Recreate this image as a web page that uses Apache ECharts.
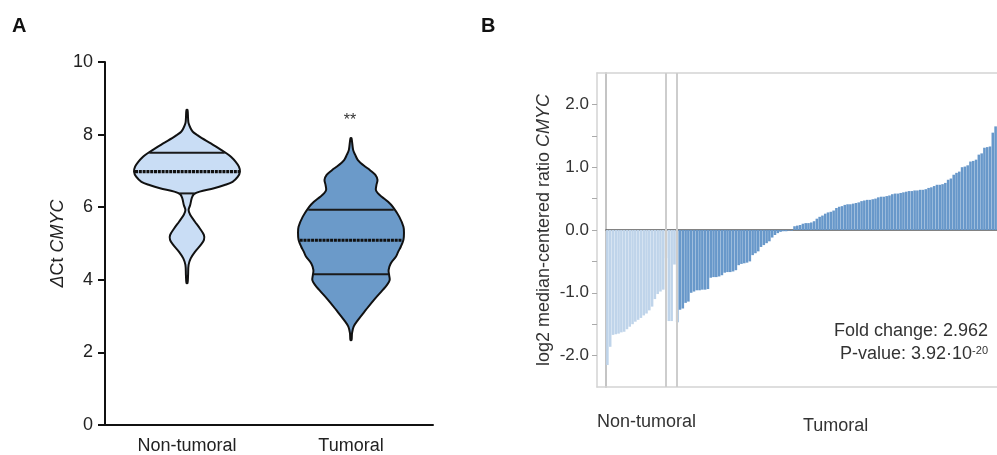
<!DOCTYPE html>
<html>
<head>
<meta charset="utf-8">
<script src="https://cdn.jsdelivr.net/npm/echarts@6/dist/echarts.min.js"></script>
<style>
  html, body { margin: 0; padding: 0; background: #fff; }
  #main { width: 997px; height: 455px; }
</style>
</head>
<body>
<div id="main"></div>
<script>
// panel A: violin groups
var groups = ['Non-tumoral', 'Tumoral'];

// Non-tumoral violin: dCt values and relative density (half width)
var ntY = [3.91, 4.13, 4.41, 4.59, 4.77, 4.96, 5.10, 5.23, 5.42, 5.60, 5.79, 5.92, 6.06, 6.25, 6.36, 6.43, 6.52, 6.61, 6.70, 6.84, 6.98, 7.12, 7.25, 7.39, 7.48, 7.62, 7.76, 7.90, 7.99, 8.08, 8.17, 8.31, 8.45, 8.68];
var ntW = [0.01, 0.02, 0.03, 0.07, 0.15, 0.26, 0.32, 0.32, 0.24, 0.15, 0.06, 0.03, 0.06, 0.09, 0.13, 0.24, 0.51, 0.71, 0.86, 0.96, 1.00, 0.98, 0.92, 0.83, 0.75, 0.60, 0.45, 0.28, 0.19, 0.11, 0.07, 0.03, 0.02, 0.01];
var ntQuart = [6.38, 6.98, 7.50];

// Tumoral violin
var tuY = [2.34, 2.53, 2.71, 2.89, 3.17, 3.44, 3.72, 3.86, 3.99, 4.13, 4.27, 4.45, 4.64, 4.77, 4.91, 5.10, 5.28, 5.46, 5.74, 6.01, 6.15, 6.29, 6.38, 6.47, 6.61, 6.75, 6.89, 7.02, 7.16, 7.30, 7.44, 7.58, 7.90];
var tuW = [0.01, 0.02, 0.05, 0.13, 0.28, 0.43, 0.60, 0.68, 0.73, 0.72, 0.71, 0.75, 0.85, 0.89, 0.94, 0.99, 1.00, 0.99, 0.91, 0.79, 0.70, 0.58, 0.51, 0.47, 0.48, 0.50, 0.46, 0.36, 0.23, 0.13, 0.08, 0.04, 0.01];
var tuQuart = [4.15, 5.09, 5.93];

// panel B: log2 median-centered ratio per sample
var ntRatio = [-2.15, -1.86, -1.67, -1.66, -1.65, -1.63, -1.62, -1.58, -1.54, -1.50, -1.46, -1.43, -1.40, -1.36, -1.33, -1.28, -1.22, -1.10, -1.02, -0.98, -0.95, -0.45, -1.45, -1.45, -0.55];
var tuRatio = [-1.47, -1.27, -1.25, -1.16, -1.14, -1.00, -0.98, -0.96, -0.96, -0.95, -0.95, -0.94,
    -0.76, -0.75, -0.75, -0.74, -0.72, -0.68, -0.67, -0.67, -0.66, -0.64,
    -0.56, -0.54, -0.53, -0.52, -0.50, -0.40, -0.37, -0.34, -0.27, -0.24, -0.21, -0.18,
    -0.12, -0.08, -0.05, -0.03, -0.02, -0.02, -0.01, -0.01, 0.06, 0.07, 0.08,
    0.10, 0.11, 0.11, 0.12, 0.14, 0.18, 0.21, 0.23, 0.26, 0.28, 0.29, 0.31, 0.35, 0.37, 0.38,
    0.40, 0.41, 0.41, 0.42, 0.43, 0.44, 0.46, 0.47, 0.48, 0.48, 0.49, 0.50,
    0.52, 0.53, 0.53, 0.54, 0.55, 0.57, 0.58, 0.58, 0.59, 0.60,
    0.61, 0.62, 0.62, 0.63, 0.63, 0.64, 0.64, 0.65, 0.67, 0.68, 0.70, 0.72, 0.72, 0.73, 0.75,
    0.80, 0.82, 0.88, 0.91, 0.93, 1.00, 1.01, 1.03, 1.09, 1.10, 1.12, 1.20, 1.22,
    1.31, 1.32, 1.33, 1.55, 1.65];
var groupBreaks = [21, 25];   // sample index of the grey separator lines
var ratioTicks = [-2, -1.5, -1, -0.5, 0, 0.5, 1, 1.5, 2];
var ratioLabels = [-2, -1, 0, 1, 2];

var FONT = 'Liberation Sans, Arial, Helvetica, sans-serif';

function widthAt(Y, W, v) {
    for (var j = 0; j < Y.length - 1; j++) {
        if (v >= Y[j] && v <= Y[j + 1]) {
            var t = (v - Y[j]) / (Y[j + 1] - Y[j]);
            return W[j] + t * (W[j + 1] - W[j]);
        }
    }
    return 0;
}

var sampleIds = ntRatio.concat(tuRatio).map(function (v, i) { return 'S' + (i + 1); });
var barData = ntRatio.map(function (v) {
    return { value: v, itemStyle: { color: '#bfd4ea' } };
}).concat(tuRatio.map(function (v) {
    return { value: v, itemStyle: { color: '#6898ca' } };
}));

var frameLine = { show: true, onZero: false, lineStyle: { color: '#d3d3d3', width: 1.5 } };

var chart = echarts.init(document.getElementById('main'));
var option = {
    animation: false,
    textStyle: { fontFamily: FONT },
    grid: [
        { left: 105, top: 62, width: 328, height: 363 },
        { left: 597, top: 73, width: 420, height: 314 },
        { left: 606, top: 73, right: 0, height: 314 }
    ],
    xAxis: [
        {
            gridIndex: 0, type: 'category', data: groups,
            axisLine: { lineStyle: { color: '#111', width: 2 } },
            axisTick: { alignWithLabel: true, length: 6, lineStyle: { color: '#111', width: 2 } },
            axisLabel: { fontSize: 18, color: '#222', margin: 12, fontFamily: FONT }
        },
        // frame: bottom and top edges
        { gridIndex: 1, type: 'value', min: 0, max: 1, position: 'bottom', axisLine: frameLine,
          axisTick: { show: false }, axisLabel: { show: false }, splitLine: { show: false } },
        {
            gridIndex: 2, type: 'category', data: sampleIds,
            axisLine: { onZero: true, lineStyle: { color: '#5a5a5a', width: 1.5 } },
            axisTick: { show: false }, axisLabel: { show: false }
        },
        { gridIndex: 1, type: 'value', min: 0, max: 1, position: 'top', axisLine: frameLine,
          axisTick: { show: false }, axisLabel: { show: false }, splitLine: { show: false } }
    ],
    yAxis: [
        {
            gridIndex: 0, type: 'value', min: 0, max: 10, interval: 2,
            name: '{i|Δ}Ct {i|CMYC}', nameLocation: 'middle', nameGap: 38,
            nameTextStyle: { fontSize: 18, color: '#222', fontFamily: FONT,
                rich: { i: { fontSize: 18, fontStyle: 'italic', color: '#222', fontFamily: FONT } } },
            axisLine: { show: true, lineStyle: { color: '#111', width: 2 } },
            axisTick: { show: true, length: 7, lineStyle: { color: '#111', width: 2 } },
            axisLabel: { fontSize: 18, color: '#222', margin: 12, fontFamily: FONT },
            splitLine: { show: false }
        },
        {
            gridIndex: 1, type: 'value', min: -2.5, max: 2.5,
            name: 'log2 median-centered ratio {i|CMYC}', nameLocation: 'middle', nameGap: 44,
            nameTextStyle: { fontSize: 18, color: '#333', fontFamily: FONT,
                rich: { i: { fontSize: 18, fontStyle: 'italic', color: '#333', fontFamily: FONT } } },
            axisLine: frameLine,
            axisTick: { show: true, length: 5, customValues: ratioTicks, lineStyle: { color: '#aaa', width: 1 } },
            axisLabel: {
                fontSize: 17, color: '#333', margin: 8, fontFamily: FONT,
                customValues: ratioLabels,
                formatter: function (v) { return v.toFixed(1); }
            },
            splitLine: { show: false }
        },
        {
            gridIndex: 2, type: 'value', min: -2.5, max: 2.5,
            axisLine: { show: true, onZero: false, lineStyle: { color: '#c4c4c4', width: 2 } },
            axisTick: { show: false }, axisLabel: { show: false }, splitLine: { show: false }
        }
    ],
    series: [
        {
            type: 'custom',
            xAxisIndex: 0, yAxisIndex: 0,
            data: [[0], [1]],
            renderItem: function (params, api) {
                var idx = api.value(0);
                var Y = idx ? tuY : ntY;
                var W = idx ? tuW : ntW;
                var Q = idx ? tuQuart : ntQuart;
                var fill = idx ? '#6b9ac9' : '#c9ddf5';
                var cx = api.coord([idx, 0])[0];
                var k = api.size([1, 0])[0] * 0.323;
                var right = [], left = [];
                for (var j = 0; j < Y.length; j++) {
                    var py = api.coord([idx, Y[j]])[1];
                    right.push([cx + W[j] * k, py]);
                    left.unshift([cx - W[j] * k, py]);
                }
                var children = [{
                    type: 'polygon',
                    shape: { points: right.concat(left), smooth: 0.35 },
                    style: { fill: fill, stroke: '#111', lineWidth: 2 }
                }];
                Q.forEach(function (q, qi) {
                    var hw = widthAt(Y, W, q) * k - 1;
                    var qy = api.coord([idx, q])[1];
                    children.push({
                        type: 'line',
                        shape: { x1: cx - hw, y1: qy, x2: cx + hw, y2: qy },
                        style: qi === 1
                            ? { stroke: '#111', lineWidth: 3.2, lineDash: [3, 0.8] }
                            : { stroke: '#1a1a1a', lineWidth: 2 }
                    });
                });
                return { type: 'group', children: children };
            },
            z: 3
        },
        {
            type: 'bar',
            xAxisIndex: 2, yAxisIndex: 2,
            data: barData,
            barCategoryGap: '8%',
            markLine: {
                silent: true,
                symbol: ['none', 'none'],
                label: { show: false },
                lineStyle: { color: '#cdcdcd', width: 2, type: 'solid' },
                data: groupBreaks.map(function (b) { return { xAxis: b }; })
            }
        }
    ],
    graphic: [
        { type: 'text', left: 12, top: 16, style: { text: 'A', font: 'bold 20px ' + FONT, fill: '#111' } },
        { type: 'text', left: 481, top: 16, style: { text: 'B', font: 'bold 20px ' + FONT, fill: '#111' } },
        { type: 'text', x: 350, y: 121, style: { text: '**', font: '16px ' + FONT, fill: '#333', align: 'center', verticalAlign: 'middle' } },
        { type: 'text', x: 988, y: 331, style: { text: 'Fold change: 2.962', font: '18px ' + FONT, fill: '#333', align: 'right', verticalAlign: 'middle' } },
        {
            type: 'text', x: 988, y: 354,
            style: {
                text: 'P-value: 3.92·10{sup|-20}', font: '18px ' + FONT, fill: '#333', align: 'right', verticalAlign: 'middle',
                rich: { sup: { fontSize: 11, fontFamily: FONT, fill: '#333', verticalAlign: 'top', lineHeight: 11 } }
            }
        },
        { type: 'text', x: 597, y: 422, style: { text: 'Non-tumoral', font: '18px ' + FONT, fill: '#333', verticalAlign: 'middle' } },
        { type: 'text', x: 803, y: 426, style: { text: 'Tumoral', font: '18px ' + FONT, fill: '#333', verticalAlign: 'middle' } }
    ]
};
chart.setOption(option);
window.addEventListener('resize', function () { chart.resize(); });
</script>
</body>
</html>
